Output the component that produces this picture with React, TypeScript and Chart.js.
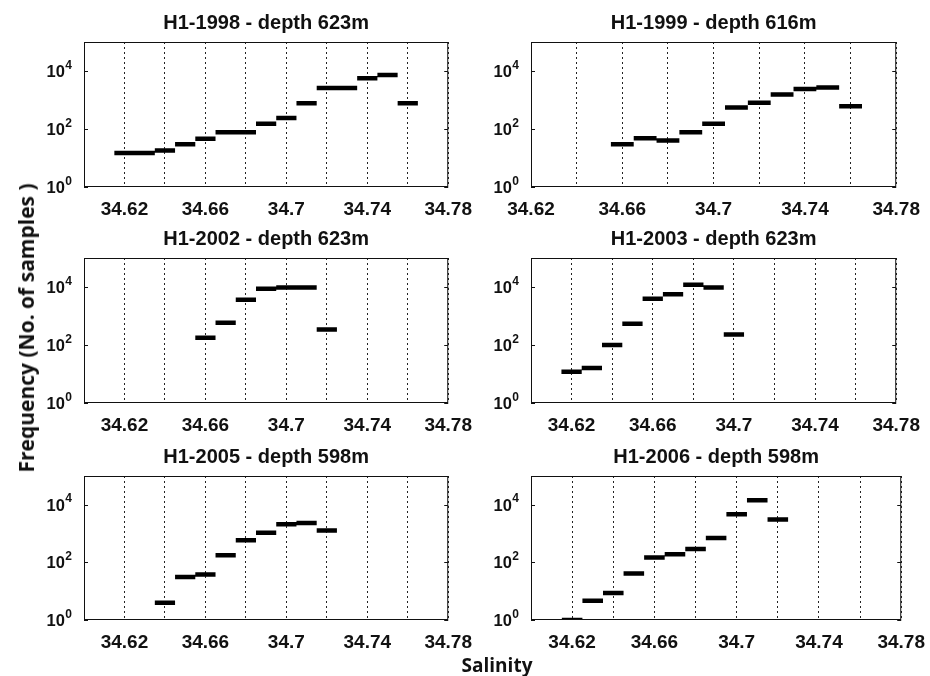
import React, { useEffect, useRef } from 'react';
import { Chart, registerables } from 'chart.js';
Chart.register(...registerables);

// ---------- data ----------
const titles = [
  'H1-1998 - depth 623m',
  'H1-1999 - depth 616m',
  'H1-2002 - depth 623m',
  'H1-2003 - depth 623m',
  'H1-2005 - depth 598m',
  'H1-2006 - depth 598m',
];

const binWidth = 0.01;

const bins1998 = [34.62, 34.63, 34.64, 34.65, 34.66, 34.67, 34.68, 34.69, 34.7, 34.71, 34.72, 34.73, 34.74, 34.75, 34.76];
const counts1998 = [15, 15, 18, 30, 46, 77, 77, 151, 238, 776, 2610, 2610, 5600, 7280, 776];

const bins1999 = [34.66, 34.67, 34.68, 34.69, 34.7, 34.71, 34.72, 34.73, 34.74, 34.75, 34.76];
const counts1999 = [30, 48, 40, 77, 151, 553, 800, 1550, 2400, 2700, 613];

const bins2002 = [34.66, 34.67, 34.68, 34.69, 34.7, 34.71, 34.72];
const counts2002 = [177, 585, 3650, 8740, 9700, 9700, 344];

const bins2003 = [34.62, 34.63, 34.64, 34.65, 34.66, 34.67, 34.68, 34.69, 34.7];
const counts2003 = [12, 16, 100, 540, 3950, 5600, 12000, 9700, 230];

const bins2005 = [34.64, 34.65, 34.66, 34.67, 34.68, 34.69, 34.7, 34.71, 34.72];
const counts2005 = [4, 31, 38, 178, 583, 1065, 2100, 2350, 1280];

const bins2006 = [34.62, 34.63, 34.64, 34.65, 34.66, 34.67, 34.68, 34.69, 34.7, 34.71, 34.72];
const counts2006 = [1, 4.7, 8.6, 41, 148, 193, 294, 700, 4660, 14400, 3060];

const xMins = [34.6, 34.62, 34.6, 34.6, 34.6, 34.6];
const xMax = 34.78;

const xTickValues = [34.6, 34.62, 34.64, 34.66, 34.68, 34.7, 34.72, 34.74, 34.76, 34.78];
const xLabeledValues = [34.62, 34.66, 34.7, 34.74, 34.78];
const xTickLabels = ['34.62', '34.66', '34.7', '34.74', '34.78'];

const yTickValues = [1, 100, 10000];
const yTickBases = ['10', '10', '10'];
const yTickExponents = ['0', '2', '4'];

const allBins = [bins1998, bins1999, bins2002, bins2003, bins2005, bins2006];
const allCounts = [counts1998, counts1999, counts2002, counts2003, counts2005, counts2006];

// ---------- layout ----------
const plots = [
  { l: 84, t: 42, w: 369, h: 145 },
  { l: 531, t: 42, w: 370, h: 145 },
  { l: 84, t: 258, w: 369, h: 145 },
  { l: 531, t: 258, w: 370, h: 145 },
  { l: 84, t: 476, w: 369, h: 144 },
  { l: 531, t: 476, w: 375, h: 144 },
];
const L = 70;
const R = 30;
const TITLE_SIZE = 20;
const TITLE_LH = 1.2;
const TITLE_PAD = 7;
const T = TITLE_SIZE * TITLE_LH + TITLE_PAD;
const B = 40;
const FONT = '"Liberation Sans", Arial, Helvetica, sans-serif';

const framePlugin = {
  id: 'frame',
  afterDraw(chart: any) {
    const { ctx, chartArea: a, scales } = chart;
    ctx.save();
    ctx.strokeStyle = '#111';
    ctx.lineWidth = 1;
    ctx.setLineDash([]);
    ctx.strokeRect(a.left + 0.5, a.top + 0.5, a.right - a.left - 1, a.bottom - a.top - 1);
    ctx.beginPath();
    for (const v of yTickValues) {
      const y = Math.round(scales.y.getPixelForValue(v)) + 0.5;
      ctx.moveTo(a.left, y);
      ctx.lineTo(a.left + 4, y);
      ctx.moveTo(a.right - 4, y);
      ctx.lineTo(a.right, y);
    }
    ctx.stroke();

    // y tick labels with raised exponents
    ctx.fillStyle = '#111';
    ctx.textAlign = 'right';
    ctx.textBaseline = 'alphabetic';
    yTickValues.forEach((v, i) => {
      const y = scales.y.getPixelForValue(v);
      const right = a.left - 12;
      ctx.font = `bold 12px ${FONT}`;
      const ew = ctx.measureText(yTickExponents[i]).width;
      ctx.fillText(yTickExponents[i], right, y - 2.5);
      ctx.font = `bold 16.5px ${FONT}`;
      ctx.fillText(yTickBases[i], right - ew - 0.5, y + 6);
    });
    ctx.restore();
  },
};

function buildPoints(bins: number[], counts: number[]) {
  const pts: { x: number; y: number | null }[] = [];
  bins.forEach((c, i) => {
    pts.push({ x: c - binWidth / 2, y: counts[i] });
    pts.push({ x: c + binWidth / 2, y: counts[i] });
    pts.push({ x: c + binWidth / 2, y: null });
  });
  return pts;
}

function Panel({ idx }: { idx: number }) {
  const ref = useRef<HTMLCanvasElement>(null);
  const p = plots[idx];
  const cw = p.w + L + R;
  const ch = Math.round(T + p.h + B);
  useEffect(() => {
    const min = xMins[idx];
    const chart = new Chart(ref.current as HTMLCanvasElement, {
      type: 'line',
      data: {
        datasets: [
          {
            data: buildPoints(allBins[idx], allCounts[idx]) as any,
            borderColor: '#000',
            borderWidth: 4.5,
            borderCapStyle: 'butt',
            pointRadius: 0,
            spanGaps: false,
            tension: 0,
          },
        ],
      },
      options: {
        animation: false,
        responsive: false,
        devicePixelRatio: 1,
        layout: { padding: { left: 0, right: R, top: 0, bottom: 0 } },
        plugins: {
          legend: { display: false },
          tooltip: { enabled: false },
          title: {
            display: true,
            fullSize: false,
            text: titles[idx],
            color: '#111',
            font: { family: FONT, size: TITLE_SIZE, weight: 'bold', lineHeight: TITLE_LH },
            padding: { top: 0, bottom: TITLE_PAD },
          },
        },
        scales: {
          x: {
            type: 'linear',
            min,
            max: xMax,
            afterBuildTicks: (s: any) => {
              s.ticks = xTickValues
                .filter((v) => v >= min - 1e-9 && v <= xMax + 1e-9)
                .map((v) => ({ value: v }));
            },
            afterFit: (s: any) => {
              s.height = B;
            },
            ticks: {
              autoSkip: false,
              maxRotation: 0,
              minRotation: 0,
              padding: 11,
              color: '#111',
              font: { family: FONT, size: 19, weight: 'bold' },
              callback: (v: any) => {
                const k = xLabeledValues.findIndex((x) => Math.abs(x - Number(v)) < 1e-6);
                return k >= 0 ? xTickLabels[k] : '';
              },
            },
            grid: { color: '#222', lineWidth: 1, drawTicks: false, borderDash: [2, 3] } as any,
            border: { display: false, dash: [2, 3] },
          },
          y: {
            type: 'logarithmic',
            min: 1,
            max: 100000,
            afterBuildTicks: (s: any) => {
              s.ticks = yTickValues.map((v) => ({ value: v }));
            },
            afterFit: (s: any) => {
              s.width = L;
            },
            ticks: { display: false },
            grid: { display: false, drawTicks: false },
            border: { display: false },
          },
        },
      },
      plugins: [framePlugin],
    });
    return () => chart.destroy();
  }, [idx]);
  return (
    <canvas
      ref={ref}
      width={cw}
      height={ch}
      style={{ position: 'absolute', left: p.l - L, top: Math.round(p.t - T), width: cw, height: ch }}
    />
  );
}

export default function App() {
  return (
    <div style={{ position: 'absolute', left: 0, top: 0, width: 930, height: 676, background: '#fff', overflow: 'hidden' }}>
      {titles.map((_, i) => (
        <Panel key={i} idx={i} />
      ))}
      <div
        style={{
          position: 'absolute',
          left: 26,
          top: 328,
          transform: 'translate(-50%, -50%) rotate(-90deg)',
          whiteSpace: 'nowrap',
          font: 'bold 21px "Open Sans", sans-serif',
          color: '#111',
        }}
      >
        Frequency (No. of samples )
      </div>
      <div
        style={{
          position: 'absolute',
          left: 497,
          top: 665,
          transform: 'translate(-50%, -50%)',
          whiteSpace: 'nowrap',
          font: 'bold 19px "Open Sans", sans-serif',
          color: '#111',
        }}
      >
        Salinity
      </div>
    </div>
  );
}
